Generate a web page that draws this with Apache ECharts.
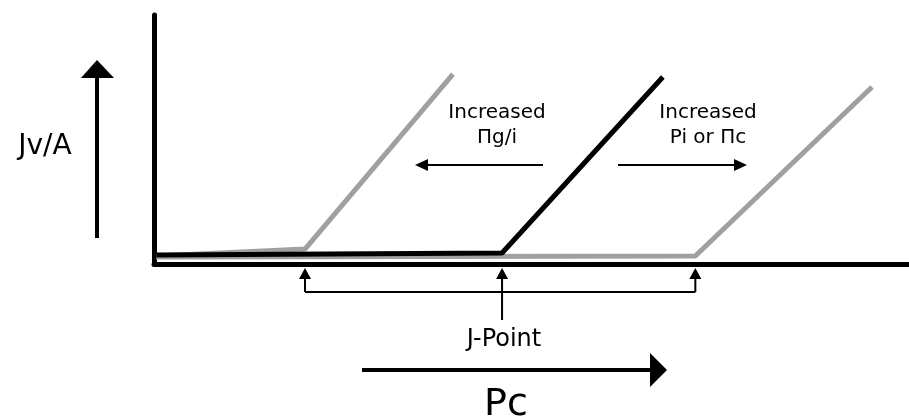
<!DOCTYPE html>
<html>
<head>
<meta charset="utf-8">
<script src="https://cdn.jsdelivr.net/npm/echarts@6/dist/echarts.min.js"></script>
<style>html,body{margin:0;padding:0;background:#fff}#c{width:909px;height:420px}</style>
</head>
<body>
<div id="c"></div>
<script>
// Schematic curves (x: Pc units 0-100, y: Jv/A units 0-100)
const leftGrayX  = [0.3, 20.0, 39.6];
const leftGrayY  = [3.2, 6.0, 76.3];
const blackX     = [0.3, 46.1, 67.4];
const blackY     = [3.6, 4.4, 75.1];
const rightGrayX = [0.3, 71.7, 95.1];
const rightGrayY = [2.8, 3.2, 71.1];

const yLabel = 'Jv/A';
const xLabel = 'Pc';
const leftNote = 'Increased\nΠg/i';
const rightNote = 'Increased\nPi or Πc';
const jLabel = 'J-Point';

const FONT = 'DejaVu Sans';
const pairs = (xs, ys) => xs.map((x, i) => [x, ys[i]]);

const chart = echarts.init(document.getElementById('c'), null, {renderer: 'canvas'});
const gray = '#a0a0a0';
chart.setOption({
  animation: false,
  backgroundColor: '#fff',
  grid: {left: 154, top: 15, right: 0, bottom: 156},
  xAxis: {type: 'value', min: 0, max: 100,
    axisLine: {show: true, onZero: false, lineStyle: {color: '#000', width: 5}},
    axisTick: {show: false}, axisLabel: {show: false}, splitLine: {show: false}},
  yAxis: {type: 'value', min: 0, max: 100,
    axisLine: {show: true, onZero: false, lineStyle: {color: '#000', width: 5}},
    axisTick: {show: false}, axisLabel: {show: false}, splitLine: {show: false}},
  series: [
    {type: 'line', data: pairs(leftGrayX, leftGrayY), symbol: 'none', lineStyle: {color: gray, width: 5}, z: 2},
    {type: 'line', data: pairs(rightGrayX, rightGrayY), symbol: 'none', lineStyle: {color: gray, width: 5}, z: 2},
    {type: 'line', data: pairs(blackX, blackY), symbol: 'none', lineStyle: {color: '#000', width: 5}, z: 3}
  ]
});

// Knee (J-point) pixel positions from the scales
const knees = [
  chart.convertToPixel({gridIndex: 0}, [leftGrayX[1], leftGrayY[1]])[0],
  chart.convertToPixel({gridIndex: 0}, [blackX[1], blackY[1]])[0],
  chart.convertToPixel({gridIndex: 0}, [rightGrayX[1], rightGrayY[1]])[0]
];

const g = [];
const line = (x1, y1, x2, y2, w) => g.push({type: 'line', shape: {x1, y1, x2, y2}, style: {stroke: '#000', lineWidth: w}});
const tri = (pts) => g.push({type: 'polygon', shape: {points: pts}, style: {fill: '#000'}});
const text = (t, x, y, size, lh) => g.push({type: 'text', x, y, style: {text: t, fontFamily: FONT, fontSize: size, fill: '#000', align: 'center', verticalAlign: 'middle', lineHeight: lh || Math.round(size * 1.2)}});

// Y label and up arrow
text(yLabel, 45, 147, 28);
line(97, 238, 97, 74, 4);
tri([[81, 78], [114, 78], [97, 60]]);

// Notes with arrows
text(leftNote, 497, 125, 20, 25);
line(543, 165, 424, 165, 2);
tri([[428, 159], [428, 171], [415, 165]]);
text(rightNote, 708, 125, 20, 25);
line(618, 165, 738, 165, 2);
tri([[734, 159], [734, 171], [747, 165]]);

// J-point bracket
knees.forEach(function (kx) {
  tri([[kx - 6, 279], [kx + 6, 279], [kx, 268]]);
  line(kx, 278, kx, 292, 2);
});
line(knees[0], 292, knees[2], 292, 2);
line(knees[1], 292, knees[1], 320, 2);
text(jLabel, 504, 340, 24);

// Pc arrow
line(362, 370, 652, 370, 4);
tri([[650, 353], [650, 387], [667, 370]]);
text(xLabel, 506, 405, 38);

chart.setOption({graphic: {elements: g}});
</script>
</body>
</html>
